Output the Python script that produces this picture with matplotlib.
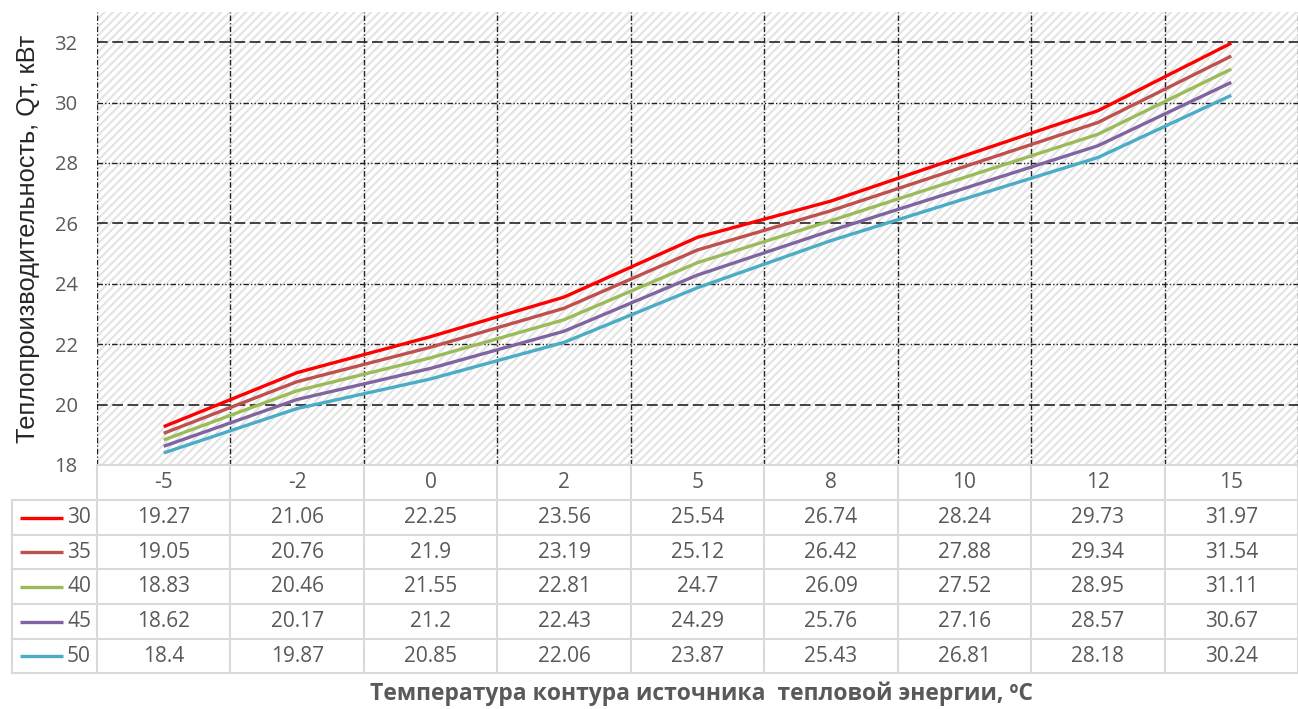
import numpy as np
import matplotlib.pyplot as plt
from matplotlib.lines import Line2D

plt.rcParams['font.family'] = ['Open Sans', 'DejaVu Sans']
plt.rcParams['hatch.linewidth'] = 1.5
plt.rcParams['hatch.color'] = '#e3e3e3'

categories = ['-5', '-2', '0', '2', '5', '8', '10', '12', '15']
series_names = ['30', '35', '40', '45', '50']
series_values = [
    [19.27, 21.06, 22.25, 23.56, 25.54, 26.74, 28.24, 29.73, 31.97],
    [19.05, 20.76, 21.9, 23.19, 25.12, 26.42, 27.88, 29.34, 31.54],
    [18.83, 20.46, 21.55, 22.81, 24.7, 26.09, 27.52, 28.95, 31.11],
    [18.62, 20.17, 21.2, 22.43, 24.29, 25.76, 27.16, 28.57, 30.67],
    [18.4, 19.87, 20.85, 22.06, 23.87, 25.43, 26.81, 28.18, 30.24],
]
colors = ['#FF0000', '#C0504D', '#9BBB59', '#8064A2', '#4BACC6']

W, H = 1298, 709
fig = plt.figure(figsize=(W / 100, H / 100), dpi=100)

ax_l, ax_r, ax_t, ax_b = 97, 1298, 12, 465
ax = fig.add_axes([ax_l / W, 1 - ax_b / H, (ax_r - ax_l) / W, (ax_b - ax_t) / H])
ax.patch.set_facecolor('white')
ax.patch.set_hatch('////')
ax.patch.set_edgecolor('#e3e3e3')
ax.patch.set_linewidth(0)

x = np.arange(len(categories))
for vals, c in zip(series_values, colors):
    ax.plot(x, vals, color=c, lw=2.4, solid_capstyle='butt', zorder=3)

ax.set_xlim(-0.5, len(categories) - 0.5)
ax.set_ylim(18, 33)
ax.set_yticks(np.arange(18, 33, 2))
ax.set_xticks([])
ax.tick_params(axis='y', length=0, labelsize=14.5, labelcolor='#595959', pad=14)
for s in ax.spines.values():
    s.set_visible(False)

# gridlines
for yv in np.arange(20, 33, 2):
    if yv in (20, 26, 32):
        ax.axhline(yv, color='#111111', lw=1.1, ls=(0, (7, 3)), zorder=2)
    else:
        ax.axhline(yv, color='#222222', lw=1.0, ls=(0, (4, 1.5, 1, 1.5, 1, 1.5)), zorder=2)
for xv in np.arange(-0.5, len(categories), 1.0):
    ax.axvline(xv, color='#222222', lw=1.0, ls=(0, (4, 1.5, 1, 1.5)), zorder=2)

ax.set_ylabel('Теплопроизводительность, Qт, кВт', family=['Liberation Sans', 'DejaVu Sans'],
              fontsize=18.3, color='#262626')
ax.yaxis.set_label_coords(-57 / (ax_r - ax_l), 0.5)

# data table below the axes
grid_c = '#d9d9d9'
text_c = '#595959'
row_tops = [465, 500, 535, 569, 604, 639, 673]
cell_w = (ax_r - ax_l) / len(categories)
tab_left = 12

def fx(px):
    return px / W

def fy(py):
    return 1 - py / H

# horizontal lines
fig.add_artist(Line2D([fx(ax_l), fx(ax_r)], [fy(465), fy(465)], color=grid_c, lw=1.5))
for yt in row_tops[1:]:
    fig.add_artist(Line2D([fx(tab_left), fx(ax_r)], [fy(yt), fy(yt)], color=grid_c, lw=1.5))
# vertical lines
for i in range(len(categories) + 1):
    xp = ax_l + i * cell_w
    fig.add_artist(Line2D([fx(xp), fx(xp)], [fy(465), fy(673)], color=grid_c, lw=1.5))
fig.add_artist(Line2D([fx(tab_left), fx(tab_left)], [fy(500), fy(673)], color=grid_c, lw=1.5))

# header row
for i, cat in enumerate(categories):
    fig.text(fx(ax_l + (i + 0.5) * cell_w), fy((row_tops[0] + row_tops[1]) / 2), cat,
             ha='center', va='center', fontsize=15, color=text_c)

# series rows
for r, (name, vals, c) in enumerate(zip(series_names, series_values, colors)):
    yc = fy((row_tops[r + 1] + row_tops[r + 2]) / 2)
    fig.add_artist(Line2D([fx(20), fx(63)], [yc, yc], color=c, lw=2.4, solid_capstyle='butt'))
    fig.text(fx(91), yc, name, ha='right', va='center', fontsize=15, color=text_c)
    for i, v in enumerate(vals):
        fig.text(fx(ax_l + (i + 0.5) * cell_w), yc, f'{v:g}',
                 ha='center', va='center', fontsize=15, color=text_c)

fig.text(fx(701), fy(694), 'Температура контура источника  тепловой энергии, \u00baC',
         ha='center', va='center', fontsize=16.5, fontweight='bold', color='#595959')

fig.savefig('out.png', dpi=100)
